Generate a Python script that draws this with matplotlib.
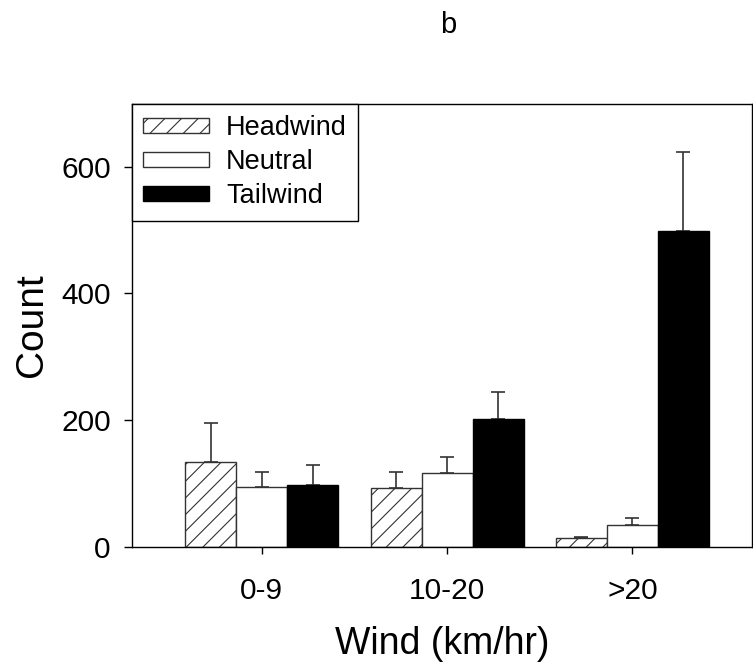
import matplotlib
matplotlib.use("Agg")
import matplotlib.pyplot as plt
import numpy as np

plt.rcParams['font.family'] = ['Liberation Sans', 'DejaVu Sans']
plt.rcParams['hatch.linewidth'] = 0.8

categories = ["0-9", "10-20", ">20"]
series = ["Headwind", "Neutral", "Tailwind"]
headwind = [134, 93, 13]
neutral = [95, 117, 35]
tailwind = [98, 201, 499]
headwind_err = [61, 25, 3]
neutral_err = [23, 25, 10]
tailwind_err = [31, 44, 125]
yticks = [0, 200, 400, 600]

fig = plt.figure(figsize=(7.53, 6.62), dpi=100)
ax = fig.add_axes([131.7 / 753, 1 - 546.7 / 662, (752 - 131.7) / 753, (546.7 - 103.5) / 662])

x = np.arange(len(categories))
w = 0.275
styles = [
    dict(facecolor="white", hatch="//", edgecolor="#333333"),
    dict(facecolor="white", edgecolor="#333333"),
    dict(facecolor="black", edgecolor="black"),
]
vals = [headwind, neutral, tailwind]
errs = [headwind_err, neutral_err, tailwind_err]
for i, (v, e, st, name) in enumerate(zip(vals, errs, styles, series)):
    pos = x + (i - 1) * w
    ax.bar(pos, v, width=w, linewidth=1.0, label=name, zorder=2, **st)
    ax.errorbar(pos, v, yerr=[np.zeros(len(e)), e], fmt="none", ecolor="#333333",
                elinewidth=1.2, capsize=5, capthick=1.2, zorder=1)

ax.set_xlim(-0.701, 2.645)
ax.set_ylim(0, 700)
ax.set_xticks(x)
ax.set_xticklabels(categories)
ax.set_yticks(yticks)
ax.tick_params(axis="x", direction="out", length=5, width=1, labelsize=21.5, pad=17)
ax.tick_params(axis="y", direction="out", length=6, width=1, labelsize=21.5, pad=9)
for s in ax.spines.values():
    s.set_linewidth(1.0)
    s.set_color("black")

ax.set_ylabel("Count", fontsize=28)
ax.yaxis.set_label_coords(-0.132, 0.5)
ax.set_xlabel("Wind (km/hr)", fontsize=27)
ax.xaxis.set_label_coords(0.5, -0.178)

leg = ax.legend(loc="upper left", bbox_to_anchor=(0, 1), borderaxespad=0, fontsize=19.5,
                fancybox=False, framealpha=1, edgecolor="black", handlelength=2.45,
                handleheight=0.5, handletextpad=0.62, labelspacing=0.3, borderpad=0.42)
leg.get_frame().set_linewidth(1.0)

fig.text(448 / 753, 1 - 25 / 662, "b", ha="center", va="center", fontsize=21)

fig.savefig("out.png", dpi=100)
